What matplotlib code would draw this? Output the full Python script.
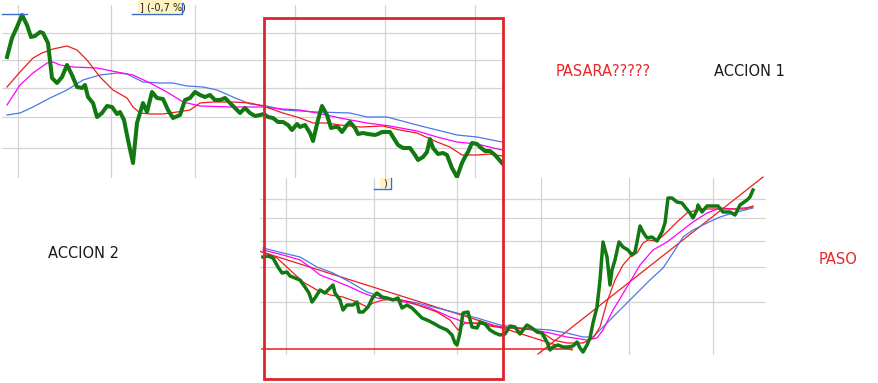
import matplotlib.pyplot as plt
from matplotlib.patches import Rectangle

# ---- datos: panel superior (ACCION 1), x = dia, y = nivel ----
top_x = [7, 12, 17, 22, 27, 31, 35, 40, 43, 48, 52, 57, 62, 67, 72, 77, 82, 85, 88, 93,
         97, 102, 107, 112, 117, 120, 124, 128, 133, 137, 143, 147, 152, 157, 163, 168, 173, 180, 185, 190,
         195, 200, 205, 210, 215, 220, 225, 230, 235, 240, 245, 250, 255, 260, 264, 268, 273, 278, 283, 288,
         292, 297, 300, 305, 310, 313, 318, 322, 327, 331, 335, 338, 342, 347, 350, 355, 358, 363, 368, 375,
         378, 382, 387, 390, 393, 398, 403, 410, 415, 418, 423, 427, 430, 433, 438, 443, 447, 452, 457, 462,
         465, 468, 472, 477, 480, 485, 490, 495, 502]
top_price = [123, 142, 153, 165, 155, 143, 144, 148, 147, 137, 102, 97, 103, 115, 105, 93, 92, 95, 83, 77,
             63, 67, 74, 73, 66, 68, 60, 40, 17, 57, 77, 68, 88, 82, 81, 70, 62, 65, 80, 82,
             88, 85, 83, 85, 80, 80, 82, 77, 72, 67, 72, 67, 64, 65, 66, 63, 62, 58, 58, 55,
             50, 56, 53, 55, 47, 39, 60, 74, 65, 52, 53, 53, 48, 55, 58, 52, 46, 47, 46, 45,
             46, 48, 48, 48, 43, 35, 32, 32, 25, 20, 23, 28, 41, 32, 26, 27, 25, 12, 3, 17,
             23, 28, 37, 36, 33, 29, 29, 25, 17]

top_ma_red_x = [7, 20, 33, 42, 53, 67, 77, 87, 100, 113, 127, 133, 140, 150, 163, 177, 190, 200, 213,
                233, 250, 263, 283, 300, 313, 327, 340, 360, 383, 400, 417, 437, 450, 462, 477, 490, 502]
top_ma_red = [93, 108, 122, 127, 131, 134, 130, 120, 103, 90, 82, 73, 67, 66, 66, 68, 70, 77, 78,
              78, 77, 74, 67, 62, 57, 57, 55, 53, 54, 50, 47, 38, 33, 25, 25, 26, 24]

top_ma_mag_x = [7, 20, 33, 47, 53, 60, 73, 97, 117, 133, 150, 167, 183, 200, 233, 263, 283, 300,
                317, 340, 367, 390, 417, 437, 457, 477, 502]
top_ma_mag = [75, 95, 107, 117, 118, 115, 113, 112, 108, 105, 97, 88, 78, 74, 73, 73, 71, 70,
              67, 62, 57, 54, 49, 43, 38, 36, 30]

top_ma_blue_x = [7, 20, 33, 50, 67, 83, 100, 117, 127, 143, 160, 173, 187, 203, 217, 233, 250, 267,
                 283, 317, 350, 367, 387, 417, 437, 457, 477, 502]
top_ma_blue = [65, 67, 73, 82, 90, 100, 105, 107, 106, 98, 97, 97, 94, 93, 90, 83, 76, 74,
               70, 68, 67, 63, 63, 55, 50, 45, 43, 38]

top_xgrid = [18, 111, 195, 295, 385, 475]
top_ygrid = [32, 63, 92, 120, 147]

# ---- datos: panel inferior (ACCION 2) ----
bot_x = [263, 268, 273, 278, 282, 287, 290, 295, 300, 305, 309, 312, 315, 320, 325, 330, 333, 335, 340, 343,
         347, 353, 357, 359, 363, 368, 373, 377, 382, 387, 393, 398, 402, 407, 412, 417, 422, 427, 433, 440,
         447, 452, 455, 457, 460, 463, 468, 472, 477, 480, 485, 490, 495, 500, 505, 510, 515, 520, 527, 532,
         537, 542, 547, 550, 553, 558, 563, 568, 573, 577, 580, 583, 587, 590, 593, 597, 600, 603, 607, 610,
         612, 615, 619, 623, 628, 632, 635, 637, 640, 643, 647, 652, 657, 662, 665, 668, 672, 677, 682, 685,
         690, 693, 697, 698, 702, 707, 713, 718, 723, 730, 735, 740, 747, 750, 753]
bot_price = [103, 104, 102, 93, 87, 88, 84, 82, 80, 73, 67, 58, 62, 70, 67, 72, 75, 67, 60, 50,
             55, 55, 58, 48, 48, 53, 63, 67, 63, 62, 60, 62, 52, 55, 52, 47, 42, 40, 37, 33,
             30, 25, 17, 15, 27, 47, 48, 33, 32, 38, 36, 30, 27, 25, 26, 34, 33, 26, 35, 32,
             28, 27, 18, 10, 13, 15, 13, 13, 14, 18, 12, 8, 15, 22, 37, 53, 80, 118, 103, 75,
             90, 100, 118, 113, 110, 105, 108, 118, 134, 128, 122, 123, 119, 128, 137, 162, 162, 158, 157, 153,
             147, 142, 150, 155, 148, 154, 154, 154, 148, 148, 145, 155, 160, 163, 170]

bot_ma_red_x = [263, 277, 290, 303, 317, 330, 343, 357, 367, 373, 383, 397, 410, 423, 437, 450, 458, 465,
                477, 490, 503, 517, 530, 543, 553, 567, 583, 593, 600, 607, 615, 623, 630, 637, 643, 648,
                657, 667, 677, 687, 700, 720, 745, 753]
bot_ma_red = [108, 102, 90, 78, 70, 65, 63, 58, 53, 57, 60, 61, 58, 53, 48, 40, 30, 37,
              37, 34, 32, 32, 31, 27, 20, 17, 17, 22, 33, 58, 80, 95, 103, 107, 117, 120,
              119, 128, 138, 147, 151, 151, 151, 154]

bot_ma_mag_x = [263, 283, 300, 310, 320, 333, 350, 363, 377, 393, 410, 430, 450, 467, 483, 503, 533, 550,
                567, 587, 597, 603, 613, 627, 640, 653, 667, 680, 693, 707, 720, 733, 753]
bot_ma_mag = [110, 105, 100, 93, 85, 80, 73, 67, 62, 60, 57, 52, 43, 37, 36, 33, 30, 27,
              23, 20, 22, 30, 50, 73, 95, 110, 118, 128, 138, 147, 152, 151, 153]

bot_ma_blue_x = [263, 283, 300, 317, 333, 350, 367, 383, 400, 417, 433, 457, 477, 500, 520, 550, 567, 583,
                 593, 603, 617, 633, 650, 663, 673, 683, 693, 707, 720, 733, 753]
bot_ma_blue = [112, 107, 103, 93, 87, 78, 68, 63, 60, 57, 53, 47, 42, 35, 32, 30, 27, 23,
               23, 33, 47, 63, 80, 92, 107, 123, 130, 137, 143, 147, 152]

trend_down_x = [259, 572]
trend_down = [109, 10]
trend_up_x = [538, 763]
trend_up = [6, 183]
soporte_x = [262, 572]
soporte = [11, 11]

bot_xgrid = [286, 374, 457, 541, 629, 713]
bot_ygrid = [58, 93, 119, 142, 161]

W, H = 879, 383
GREEN = '#127812'
RED = '#ee1c1c'
MAG = '#ff00ff'
BLUE = '#4a78e6'
GRID = '#d4d4d4'

fig = plt.figure(figsize=(W / 100, H / 100), dpi=100)


def panel(x0, y0, x1, y1):
    ax = fig.add_axes([x0 / W, 1 - y1 / H, (x1 - x0) / W, (y1 - y0) / H])
    ax.set_facecolor('none')
    for s in ax.spines.values():
        s.set_visible(False)
    ax.tick_params(length=0, labelbottom=False, labelleft=False)
    return ax


# panel superior
ax1 = panel(2, 5, 505, 178)
ax1.set_xlim(2, 505)
ax1.set_ylim(2, 175)
ax1.set_xticks(top_xgrid)
ax1.set_yticks(top_ygrid)
ax1.grid(color=GRID, lw=0.9)
ax1.plot(top_ma_blue_x, top_ma_blue, color=BLUE, lw=0.9)
ax1.plot(top_ma_mag_x, top_ma_mag, color=MAG, lw=0.9)
ax1.plot(top_ma_red_x, top_ma_red, color=RED, lw=0.9)
ax1.plot(top_x, top_price, color=GREEN, lw=2.9, solid_joinstyle='round')

# panel inferior
ax2 = panel(260, 178, 766, 355)
ax2.set_xlim(260, 766)
ax2.set_ylim(5, 182)
ax2.set_xticks(bot_xgrid)
ax2.set_yticks(bot_ygrid)
ax2.grid(color=GRID, lw=0.9)
ax2.plot(soporte_x, soporte, color=RED, lw=1.1)
ax2.plot(trend_down_x, trend_down, color=RED, lw=0.9)
ax2.plot(trend_up_x, trend_up, color=RED, lw=0.9, clip_on=False)
ax2.plot(bot_ma_blue_x, bot_ma_blue, color=BLUE, lw=0.9)
ax2.plot(bot_ma_mag_x, bot_ma_mag, color=MAG, lw=0.9)
ax2.plot(bot_ma_red_x, bot_ma_red, color=RED, lw=0.9)
ax2.plot(bot_x, bot_price, color=GREEN, lw=2.5, solid_joinstyle='round')

# capa de anotaciones
ov = fig.add_axes([0, 0, 1, 1])
ov.set_xlim(0, W)
ov.set_ylim(H, 0)
ov.axis('off')
ov.set_facecolor('none')

# etiquetas sueltas de la captura
ov.add_patch(Rectangle((138, 0), 44, 13, fc='#fff3c4', ec='none'))
ov.text(140, 7, '] (-0,7 %)', fontsize=7, va='center', ha='left', color='#222222')
ov.plot([132, 182, 182], [14, 14, 3], color='#3b6cc6', lw=1)
ov.plot([2, 27], [14, 14], color='#3b6cc6', lw=1)
ov.add_patch(Rectangle((380, 178), 10, 10, fc='#fff3c4', ec='none'))
ov.text(383, 183, ')', fontsize=7, va='center', ha='left', color='#222222')
ov.plot([374, 391, 391], [189, 189, 178], color='#3b6cc6', lw=1)

ov.add_patch(Rectangle((264, 18), 239, 361, fc='none', ec='#e0232c', lw=2))

ov.text(603, 72, 'PASARA?????', color='#e8262a', fontsize=10.5, ha='center', va='center')
ov.text(749, 72, 'ACCION 1', color='#1a1a1a', fontsize=10.5, ha='center', va='center')
ov.text(84, 254, 'ACCION 2', color='#1a1a1a', fontsize=10.5, ha='center', va='center')
ov.text(838, 259, 'PASO', color='#e8262a', fontsize=10.5, ha='center', va='center')

fig.savefig('out.png', dpi=100)
